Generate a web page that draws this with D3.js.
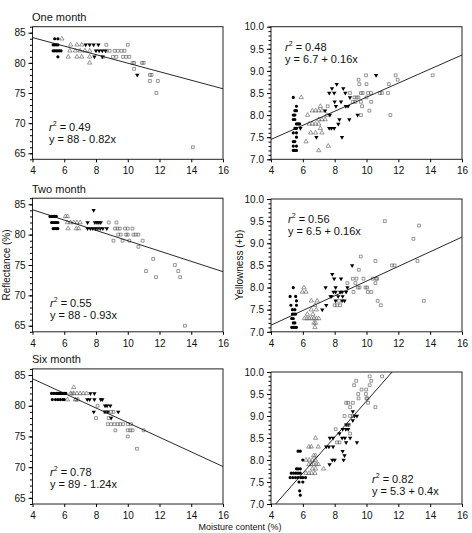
<!DOCTYPE html>
<html>
<head>
<meta charset="utf-8">
<script src="https://cdn.jsdelivr.net/npm/d3@7"></script>
<style>
  body { margin: 0; background: #fff; }
  svg { font-family: "Liberation Sans", Arial, sans-serif; }
</style>
</head>
<body>
<script>
// ---- data ----
const xTicks = [4, 6, 8, 10, 12, 14, 16];
const reflTicks = [65, 70, 75, 80, 85];
const yelTicks = [7.0, 7.5, 8.0, 8.5, 9.0, 9.5, 10.0];
const rowTitles = ["One month", "Two month", "Six month"];

// One month, reflectance
const oneRefCircles = [[5.4,84],[5.6,84],[5.3,83],[5.4,83],[5.5,83],[5.6,83],[5.3,82],[5.4,82],[5.5,82],[5.6,82],[5.7,82],[5.8,82],[5.6,81]];
const oneRefTriangles = [[5.85,84],[6.4,83],[6.8,83],[7.1,83],[6.35,82],[6.7,82],[7.0,82],[7.3,82],[7.6,82],[6.25,81],[6.8,81],[7.1,81],[7.6,81],[7.6,80]];
const oneRefDown = [[7.35,83],[7.6,83],[7.85,83],[8.15,83],[8.0,82],[8.2,82],[8.4,82],[8.6,82],[7.9,81],[8.4,81],[10.6,78]];
const oneRefSquares = [[8.65,83],[10.0,83],[8.65,82],[8.86,82],[9.17,82],[9.38,82],[9.6,82],[9.8,82],[8.44,81],[9.07,81],[9.28,81],[9.7,81],[9.9,81],[10.1,81],[10.3,80],[10.4,80],[10.9,80],[11.0,80],[10.4,79],[11.4,78],[11.5,78],[11.4,77],[11.9,77],[11.8,75],[14.1,66]];
const oneRefFit = [[4,84.2],[16,75.7]];

// One month, yellowness
const oneYelCircles = [[5.4,8.4],[5.6,8.2],[5.5,8.1],[5.6,8.1],[5.4,8.0],[5.5,8.0],[5.4,7.9],[5.5,7.9],[5.6,7.8],[5.7,7.8],[5.8,7.8],[5.5,7.7],[5.6,7.7],[5.4,7.6],[5.6,7.6],[5.6,7.5],[5.4,7.4],[5.5,7.4],[5.4,7.3],[5.6,7.3],[5.4,7.2],[5.5,7.2],[5.6,7.2]];
const oneYelTriangles = [[5.9,8.4],[6.3,8.0],[6.2,7.4],[6.6,8.1],[6.8,8.1],[7.0,8.1],[7.2,8.1],[7.1,8.2],[6.4,7.8],[6.6,7.8],[6.8,7.8],[7.0,7.8],[7.0,7.9],[7.2,7.9],[6.5,7.6],[6.8,7.6],[7.2,7.6],[7.1,7.7],[7.4,7.9],[7.5,8.0],[7.6,7.3],[7.0,7.2]];
const oneYelDown = [[5.85,7.7],[6.85,7.5],[7.4,8.1],[7.66,8.5],[7.97,8.5],[7.83,8.6],[8.13,8.7],[8.54,8.6],[8.67,8.5],[8.0,8.3],[8.08,8.2],[8.4,8.3],[8.7,8.2],[8.84,8.2],[8.96,8.4],[8.92,7.9],[8.3,7.9],[8.23,7.8],[7.66,7.7],[7.8,7.7],[7.97,7.7],[8.46,7.5],[9.44,8.0],[10.6,8.9],[7.7,8.0]];
const oneYelSquares = [[7.56,8.2],[8.96,8.5],[9.13,8.3],[9.24,8.4],[9.3,8.3],[9.38,8.4],[9.49,8.4],[9.65,8.5],[9.76,8.5],[9.5,8.8],[9.55,8.7],[9.65,8.3],[9.72,8.2],[9.65,8.0],[9.97,8.9],[10.0,8.7],[10.0,8.4],[10.1,8.5],[10.18,8.1],[10.28,8.5],[10.3,8.3],[10.85,8.5],[10.97,8.5],[11.4,8.7],[11.35,8.5],[11.5,8.0],[11.83,8.9],[11.96,8.8],[14.16,8.9]];
const oneYelFit = [[4,7.45],[16,9.36]];

// Two month, reflectance
const twoRefCircles = [[5.1,83],[5.2,83],[5.3,83],[5.4,83],[5.5,83],[5.2,82],[5.3,82],[5.4,82],[5.5,82],[5.6,82],[5.3,81],[5.4,81],[5.5,81],[5.6,81]];
const twoRefTriangles = [[6.07,83],[6.2,83],[6.2,82],[6.4,82],[6.6,82],[6.8,82],[7.0,82],[6.24,81],[6.76,81],[6.9,81]];
const twoRefDown = [[7.85,84],[7.47,82],[7.93,82],[8.06,82],[8.18,82],[8.3,82],[7.47,81],[7.64,81],[7.8,81],[7.97,81],[8.1,81],[8.27,81],[8.43,81],[8.68,81]];
const twoRefSquares = [[8.8,82],[9.29,82],[8.16,81],[9.2,81],[9.35,81],[9.5,81],[9.83,81],[10.0,81],[10.3,81],[9.4,80],[9.56,80],[9.9,80],[10.0,80],[10.36,80],[10.5,80],[10.67,80],[9.1,79],[9.67,79],[10.1,79],[10.94,79],[10.67,78],[11.6,76],[11.15,74],[11.78,73],[12.97,75],[13.18,74],[13.3,73],[13.6,65]];
const twoRefFit = [[4,84.1],[16,73.9]];

// Two month, yellowness
const twoYelCircles = [[5.4,8.0],[5.2,7.8],[5.55,7.8],[5.6,7.7],[5.25,7.6],[5.6,7.6],[5.35,7.5],[5.5,7.5],[5.35,7.4],[5.45,7.4],[5.55,7.4],[5.3,7.3],[5.4,7.3],[5.4,7.2],[5.5,7.2],[5.3,7.1],[5.4,7.1],[5.5,7.1],[5.6,7.1]];
const twoYelTriangles = [[6.07,8.0],[5.97,7.9],[6.2,7.9],[6.53,7.7],[6.9,7.7],[6.76,7.6],[6.85,7.5],[6.53,7.5],[6.28,7.4],[6.63,7.4],[6.1,7.3],[6.25,7.3],[6.4,7.3],[6.55,7.3],[6.7,7.3],[6.85,7.3],[7.0,7.3],[6.7,7.2],[6.8,7.2],[6.76,7.1]];
const twoYelDown = [[7.85,8.3],[7.97,8.2],[8.4,8.2],[7.43,8.0],[8.06,8.0],[7.93,7.9],[8.06,7.9],[8.35,7.9],[8.47,7.9],[7.74,7.8],[7.8,7.8],[8.22,7.8],[8.5,7.8],[8.06,7.7],[8.47,7.7],[8.62,7.7],[7.22,7.5],[7.47,7.6],[9.1,8.5],[8.8,8.0],[8.72,7.9]];
const twoYelSquares = [[8.0,7.6],[8.15,7.6],[8.35,7.6],[8.27,7.7],[8.8,8.1],[9.14,8.2],[9.37,8.2],[9.18,7.9],[9.3,8.1],[9.46,8.0],[9.56,8.0],[9.52,8.4],[9.64,8.7],[9.81,8.2],[9.94,8.0],[10.04,8.0],[10.08,7.9],[10.3,7.9],[10.4,8.2],[10.6,8.2],[10.56,8.1],[10.56,8.6],[10.67,8.2],[10.7,7.7],[10.9,7.6],[11.15,9.5],[11.6,8.5],[11.76,8.5],[12.95,9.1],[13.2,8.6],[13.3,9.4],[13.6,7.7]];
const twoYelFit = [[4,7.15],[16,9.14]];

// Six month, reflectance
const sixRefCircles = [[5.2,82],[5.35,82],[5.5,82],[5.6,82],[5.7,82],[5.8,82],[5.9,82],[6.0,82],[6.1,82],[5.25,81],[5.45,81],[5.6,81],[5.75,81],[5.9,81],[6.0,81]];
const sixRefTriangles = [[6.6,83],[6.4,82],[6.6,82],[6.8,82],[7.0,82],[7.2,82],[7.4,82],[6.2,81],[6.7,81],[6.86,81]];
const sixRefDown = [[7.65,82],[7.9,82],[7.45,81],[7.6,81],[7.9,81],[8.3,81],[8.4,81],[8.57,80],[8.7,80],[8.9,80],[7.86,79],[8.57,79],[8.74,79],[9.4,79],[8.95,78]];
const sixRefSquares = [[6.5,82],[6.75,81],[8.1,80],[8.57,79],[8.74,79],[8.95,79],[9.1,79],[8.0,78],[8.8,78],[8.74,77],[8.95,77],[9.16,77],[9.37,77],[9.53,77],[9.7,77],[10.0,77],[10.2,77],[9.22,76],[10.0,76],[10.16,76],[10.3,76],[11.0,76],[10.0,75],[10.58,73]];
const sixRefFit = [[4,84.4],[16,70.1]];

// Six month, yellowness
const sixYelCircles = [[5.7,8.2],[5.84,8.2],[6.0,8.0],[5.6,7.8],[5.7,7.8],[5.84,7.8],[5.27,7.7],[5.42,7.7],[5.56,7.7],[5.7,7.7],[5.84,7.7],[5.2,7.6],[5.37,7.6],[5.54,7.6],[5.7,7.6],[5.87,7.6],[6.0,7.6],[6.17,7.6],[5.76,7.5],[6.0,7.5],[5.8,7.3],[5.84,7.2]];
const sixYelTriangles = [[6.8,8.5],[6.38,8.3],[6.53,8.3],[6.97,8.3],[6.68,8.1],[6.8,8.1],[6.2,8.0],[6.4,8.0],[6.6,8.0],[6.8,8.0],[6.38,7.9],[6.53,7.9],[6.68,7.9],[6.84,7.9],[6.97,7.9],[6.6,7.8],[6.8,7.8],[7.3,7.8],[6.2,7.7],[6.38,7.7],[6.55,7.7],[6.76,7.7]];
const sixYelDown = [[7.7,8.5],[7.9,8.5],[7.47,8.3],[7.64,8.3],[7.9,8.3],[7.68,7.9],[7.85,8.0],[8.0,8.0],[8.72,8.4],[8.5,8.2],[8.62,8.1],[8.56,8.0],[8.47,8.5],[8.64,8.5],[8.97,8.5],[8.3,8.6],[8.5,8.7],[8.7,8.7],[8.85,8.7],[8.72,8.8],[8.85,8.8],[9.25,9.0],[9.4,9.0],[9.4,8.4],[9.14,9.1],[9.14,8.9]];
const sixYelSquares = [[8.06,8.7],[8.3,8.4],[8.15,8.4],[8.8,8.8],[8.97,8.6],[8.9,8.8],[8.62,9.0],[8.97,9.0],[9.14,9.0],[8.97,9.2],[8.72,9.3],[8.85,9.3],[9.14,9.3],[9.22,9.7],[9.35,9.8],[9.48,9.5],[9.5,9.4],[9.69,9.6],[9.98,9.6],[9.96,9.5],[10.06,9.4],[10.1,9.3],[10.2,9.7],[10.2,9.9],[10.3,9.8],[10.98,9.9],[10.56,9.2],[10.0,9.4]];
const sixYelFit = [[4.29,7.0],[11.61,10.0]];

const statsR2 = ["0.49", "0.48", "0.55", "0.56", "0.78", "0.82"];
const statsEq = ["y = 88 - 0.82x", "y = 6.7 + 0.16x", "y = 88 - 0.93x", "y = 6.5 + 0.16x", "y = 89 - 1.24x", "y = 5.3 + 0.4x"];

// ---- layout ----
const W = 472, H = 533;
const svg = d3.select("body").append("svg").attr("width", W).attr("height", H);

const colX = [[32.5, 223], [271, 462]];
const rowY = [[[26.7, 159.3], [26.7, 159.3]], [[198.2, 331.8], [199, 331.8]], [[368.9, 504], [372, 504]]];

const panels = [
  { row: 0, col: 0, sets: [oneRefCircles, oneRefTriangles, oneRefDown, oneRefSquares], fit: oneRefFit, ann: [49, 127] },
  { row: 0, col: 1, sets: [oneYelCircles, oneYelTriangles, oneYelDown, oneYelSquares], fit: oneYelFit, ann: [285, 47] },
  { row: 1, col: 0, sets: [twoRefCircles, twoRefTriangles, twoRefDown, twoRefSquares], fit: twoRefFit, ann: [50, 303] },
  { row: 1, col: 1, sets: [twoYelCircles, twoYelTriangles, twoYelDown, twoYelSquares], fit: twoYelFit, ann: [288, 219] },
  { row: 2, col: 0, sets: [sixRefCircles, sixRefTriangles, sixRefDown, sixRefSquares], fit: sixRefFit, ann: [50, 472] },
  { row: 2, col: 1, sets: [sixYelCircles, sixYelTriangles, sixYelDown, sixYelSquares], fit: sixYelFit, ann: [372, 479] }
];

const symCircle = d3.symbol().type(d3.symbolCircle).size(8)();
const symTri = d3.symbol().type(d3.symbolTriangle).size(8)();
const symSquare = d3.symbol().type(d3.symbolSquare).size(8)();
const markStyles = [
  { path: symCircle, fill: "#000", stroke: "none", rot: 0 },
  { path: symTri, fill: "none", stroke: "#555", rot: 0 },
  { path: symTri, fill: "#000", stroke: "none", rot: 180 },
  { path: symSquare, fill: "none", stroke: "#555", rot: 0 }
];

panels.forEach((p, i) => {
  const [x0, x1] = colX[p.col];
  const [y0, y1] = rowY[p.row][p.col];
  const isRefl = p.col === 0;
  const x = d3.scaleLinear().domain([4, 16]).range([x0, x1]);
  const y = d3.scaleLinear().domain(isRefl ? [64, 86] : [7, 10]).range([y1, y0]);
  const g = svg.append("g");

  // frame
  g.append("rect").attr("x", x0).attr("y", y0).attr("width", x1 - x0).attr("height", y1 - y0)
    .attr("fill", "none").attr("stroke", "#222").attr("stroke-width", 1);

  // x axis
  const xa = g.append("g").attr("transform", `translate(0,${y1})`)
    .call(d3.axisBottom(x).tickValues(xTicks).tickSize(3).tickFormat(d3.format("d")));
  xa.select(".domain").remove();
  xa.selectAll("text").attr("font-size", 10).attr("fill", "#111").attr("dy", "0.9em");

  // y minor ticks
  const minor = isRefl ? d3.range(64, 86.01, 1) : d3.range(7, 10.001, 0.1);
  const ya2 = g.append("g").attr("transform", `translate(${x0},0)`)
    .call(d3.axisLeft(y).tickValues(minor).tickSize(2.5).tickFormat(""));
  ya2.select(".domain").remove();

  // y axis
  const ya = g.append("g").attr("transform", `translate(${x0},0)`)
    .call(d3.axisLeft(y).tickValues(isRefl ? reflTicks : yelTicks).tickSize(4)
      .tickFormat(isRefl ? d3.format("d") : d3.format(".1f")));
  ya.select(".domain").remove();
  ya.selectAll("text").attr("font-size", 10).attr("fill", "#111");

  // markers
  const clipId = "clip" + i;
  svg.append("clipPath").attr("id", clipId).append("rect")
    .attr("x", x0).attr("y", y0).attr("width", x1 - x0).attr("height", y1 - y0);

  p.sets.forEach((set, k) => {
    const st = markStyles[k];
    g.append("g").selectAll("path").data(set).join("path")
      .attr("d", st.path)
      .attr("transform", d => `translate(${x(d[0])},${y(d[1])}) rotate(${st.rot})`)
      .attr("fill", st.fill).attr("stroke", st.stroke).attr("stroke-width", 0.6);
  });

  // regression line
  g.append("path").datum(p.fit)
    .attr("clip-path", `url(#${clipId})`)
    .attr("d", d3.line().x(d => x(d[0])).y(d => y(d[1])))
    .attr("fill", "none").attr("stroke", "#111").attr("stroke-width", 0.9);

  // annotations
  const r2 = g.append("text").attr("x", p.ann[0]).attr("y", p.ann[1] + 4)
    .attr("font-size", 11).attr("fill", "#111");
  r2.append("tspan").attr("font-style", "italic").text("r");
  r2.append("tspan").attr("font-size", 7).attr("dy", -5).text("2");
  r2.append("tspan").attr("dy", 5).text(" = " + statsR2[i]);
  g.append("text").attr("x", p.ann[0]).attr("y", p.ann[1] + 16)
    .attr("font-size", 11).attr("fill", "#111").text(statsEq[i]);
});

// row titles
const titleY = [21, 193, 363];
rowTitles.forEach((t, i) => {
  svg.append("text").attr("x", 32).attr("y", titleY[i]).attr("font-size", 11).attr("fill", "#111").text(t);
});

// axis titles
svg.append("text").attr("transform", "translate(10,265) rotate(-90)")
  .attr("text-anchor", "middle").attr("font-size", 10).attr("fill", "#111").text("Reflectance (%)");
svg.append("text").attr("transform", "translate(243,265) rotate(-90)")
  .attr("text-anchor", "middle").attr("font-size", 10).attr("fill", "#111").text("Yellowness (+b)");
svg.append("text").attr("x", 240).attr("y", 530)
  .attr("text-anchor", "middle").attr("font-size", 9).attr("fill", "#111").text("Moisture content (%)");
</script>
</body>
</html>
